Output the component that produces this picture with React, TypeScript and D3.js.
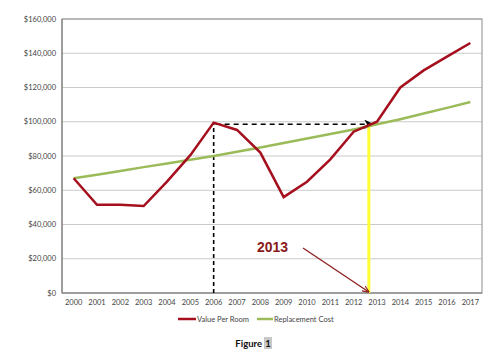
import React from "react";
import * as d3 from "d3";

const years = ["2000","2001","2002","2003","2004","2005","2006","2007","2008","2009","2010","2011","2012","2013","2014","2015","2016","2017"];
const valuePerRoom = [67000,51500,51500,50800,65000,80500,99500,95200,82000,56000,65000,78000,94200,100000,120000,130000,138000,146000];
const replacementCost = [67000,69100,71300,73500,75600,77800,80000,82500,85000,87600,90200,92800,95500,98500,101500,104800,108100,111500];
const yTicks = [0,20000,40000,60000,80000,100000,120000,140000,160000];
const dashedLevel = 98500;
const markerPos = 12.65; // fractional category index for yellow line

const W = 500, H = 360;
const left = 62, right = 482, top = 19, bottom = 293;

export default function App() {
  const x = d3.scaleBand().domain(years).range([left, right]);
  const y = d3.scaleLinear().domain([0, 160000]).range([bottom, top]);
  const cx = (i: number) => left + x.bandwidth() * (i + 0.5);
  const line = d3.line<number>().x((_, i) => cx(i)).y(d => y(d));
  const font = "Lato, 'Open Sans', sans-serif";
  const i2006 = years.indexOf("2006");
  const yellowX = cx(markerPos);
  return (
    <svg width={W} height={H} style={{ position: "absolute", left: 0, top: 0, background: "#fff" }}>
      {yTicks.map(t => (
        <g key={t}>
          {t > 0 && <line x1={left} x2={right} y1={y(t)} y2={y(t)} stroke="#cacaca" strokeWidth={1} />}
          <text x={left - 6} y={y(t)} dy="0.35em" textAnchor="end" fontSize={7.5} fill="#444" fontFamily={font}>
            {d3.format("$,")(t)}
          </text>
        </g>
      ))}
      <rect x={left} y={top} width={right - left} height={bottom - top} fill="none" stroke="#8c8c8c" strokeWidth={1} />
      <line x1={left} x2={left} y1={top} y2={bottom} stroke="#777" strokeWidth={1} />
      <line x1={left} x2={right} y1={bottom} y2={bottom} stroke="#777" strokeWidth={1} />
      {years.map((yr, i) => (
        <text key={yr} x={cx(i)} y={bottom + 12} textAnchor="middle" fontSize={7.5} fill="#444" fontFamily={font}>{yr}</text>
      ))}
      <defs>
        <marker id="blackArrow" viewBox="0 0 10 10" refX="9" refY="5" markerWidth="6" markerHeight="6" orient="auto">
          <path d="M0,0 L10,5 L0,10 L3,5 Z" fill="#000" />
        </marker>
        <marker id="redArrow" viewBox="0 0 10 10" refX="9" refY="5" markerWidth="6" markerHeight="6" orient="auto">
          <path d="M0,1 L10,5 L0,9" fill="none" stroke="#8b1a1a" strokeWidth={1.5} />
        </marker>
      </defs>
      <line x1={yellowX} x2={yellowX} y1={y(dashedLevel)} y2={bottom} stroke="#ffff33" strokeWidth={3} />
      <line x1={cx(i2006)} x2={cx(i2006)} y1={bottom} y2={y(valuePerRoom[i2006])} stroke="#000" strokeWidth={1.6} strokeDasharray="4,3" />
      <line x1={cx(i2006) + 2} x2={yellowX + 4} y1={y(dashedLevel)} y2={y(dashedLevel)} stroke="#000" strokeWidth={1.6} strokeDasharray="5,4" markerEnd="url(#blackArrow)" />
      <path d={line(replacementCost) || ""} fill="none" stroke="#9bbb59" strokeWidth={2.5} />
      <path d={line(valuePerRoom) || ""} fill="none" stroke="#a50f1e" strokeWidth={2.5} strokeLinejoin="miter" />
      <text x={257} y={252} fontSize={14} fontWeight="bold" fill="#8b1a1a" fontFamily="'Liberation Sans', Arial, sans-serif">2013</text>
      <line x1={303} y1={248} x2={yellowX} y2={bottom - 1} stroke="#8b1a1a" strokeWidth={1.2} markerEnd="url(#redArrow)" />
      <line x1={178} x2={196} y1={319} y2={319} stroke="#a50f1e" strokeWidth={2.5} />
      <text x={197} y={319} dy="0.35em" fontSize={7.5} fill="#444" fontFamily={font}>Value Per Room</text>
      <line x1={257} x2={273} y1={319} y2={319} stroke="#9bbb59" strokeWidth={2.5} />
      <text x={274} y={319} dy="0.35em" fontSize={7.5} fill="#444" fontFamily={font}>Replacement Cost</text>
      <text x={262} y={347} textAnchor="end" fontSize={9.5} fontWeight="bold" fill="#111" fontFamily={font}>Figure</text>
      <rect x={264} y={337} width={8} height={12} fill="#c8c8c8" />
      <text x={268} y={347} textAnchor="middle" fontSize={9.5} fontWeight="bold" fill="#111" fontFamily={font}>1</text>
    </svg>
  );
}
